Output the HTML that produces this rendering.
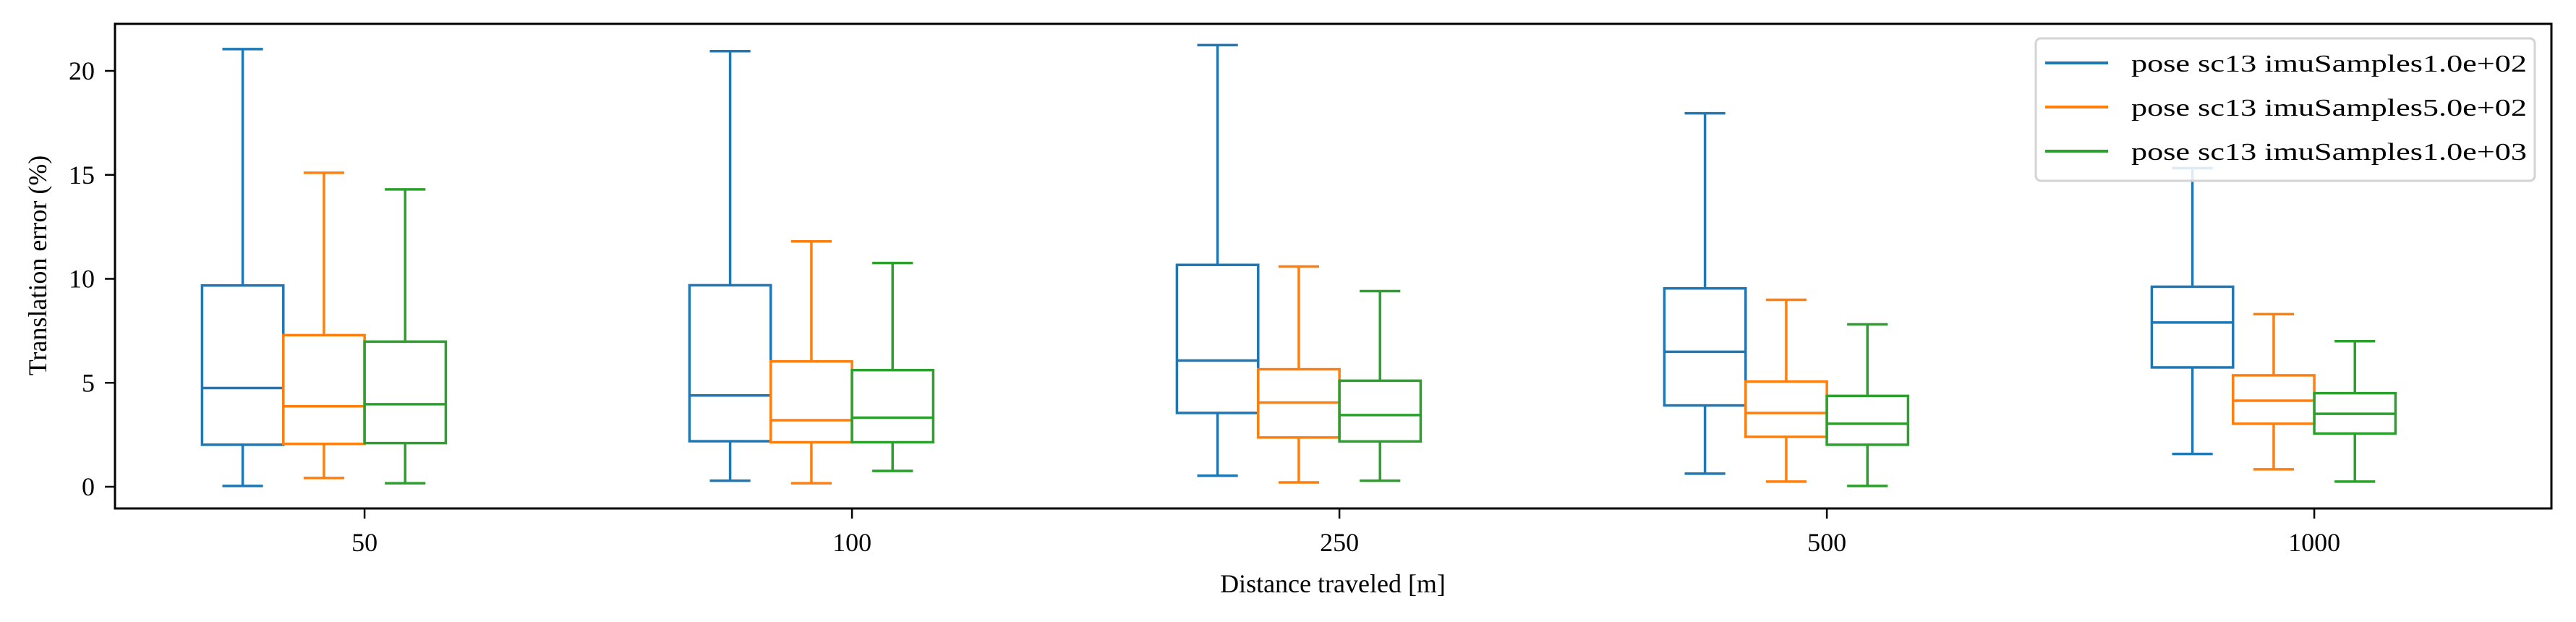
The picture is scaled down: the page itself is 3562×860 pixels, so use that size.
<!DOCTYPE html>
<html><head><meta charset="utf-8">
<style>html,body{margin:0;padding:0;background:#fff}svg{display:block}text{font-family:"Liberation Serif",serif;fill:#000}</style>
</head><body>
<svg id="chart" width="3562" height="860" viewBox="0 0 3562 860" xmlns="http://www.w3.org/2000/svg"></svg>
<script>
const categories = ["50","100","250","500","1000"];
const seriesNames = ["pose sc13 imuSamples1.0e+02","pose sc13 imuSamples5.0e+02","pose sc13 imuSamples1.0e+03"];
const colors = ["#1f77b4","#ff7f0e","#2ca02c"];
// each entry: [lowWhisker, q1, median, q3, highWhisker]
const seriesBlue = [[0.04,2.02,4.75,9.68,21.05],[0.29,2.19,4.39,9.69,20.95],[0.53,3.55,6.07,10.67,21.24],[0.63,3.91,6.49,9.54,17.96],[1.58,5.74,7.9,9.62,15.32]];
const seriesOrange = [[0.42,2.06,3.87,7.29,15.1],[0.17,2.14,3.2,6.03,11.8],[0.21,2.37,4.05,5.65,10.59],[0.25,2.4,3.55,5.06,8.99],[0.84,3.03,4.14,5.36,8.3]];
const seriesGreen = [[0.17,2.1,3.97,6.98,14.3],[0.76,2.14,3.32,5.61,10.76],[0.29,2.18,3.45,5.1,9.41],[0.04,2.02,3.03,4.37,7.81],[0.25,2.56,3.51,4.5,7.0]];
const yTicks = [0,5,10,15,20];

const svg = document.getElementById('chart');
const NS = 'http://www.w3.org/2000/svg';
const L=159,R=3528,T=33,B=703;
const xScale = v => L + (v - 0.488) * 674;
const yScale = v => 673 - v * 28.75;
function mk(tag, attrs, parent){const e=document.createElementNS(NS,tag);for(const k in attrs)e.setAttribute(k,attrs[k]);(parent||svg).appendChild(e);return e;}

const allSeries=[seriesBlue,seriesOrange,seriesGreen];
const offsets=[-0.25,-0.0833,0.0833];
const bw=0.1667;
allSeries.forEach((ser,si)=>{
  ser.forEach((d,ci)=>{
    const g=mk('g',{});
    
    
    const c=ci+1+offsets[si];
    const x0=xScale(c-bw/2),x1=xScale(c+bw/2),xm=xScale(c);
    const cw=(x1-x0)/4;
    const st={stroke:colors[si],'stroke-width':3.5,fill:'none'};
    mk('rect',Object.assign({x:x0,y:yScale(d[3]),width:x1-x0,height:yScale(d[1])-yScale(d[3])},st),g);
    mk('line',Object.assign({x1:x0,x2:x1,y1:yScale(d[2]),y2:yScale(d[2])},st),g);
    mk('line',Object.assign({x1:xm,x2:xm,y1:yScale(d[3]),y2:yScale(d[4])},st),g);
    mk('line',Object.assign({x1:xm,x2:xm,y1:yScale(d[1]),y2:yScale(d[0])},st),g);
    mk('line',Object.assign({x1:xm-cw,x2:xm+cw,y1:yScale(d[4]),y2:yScale(d[4])},st),g);
    mk('line',Object.assign({x1:xm-cw,x2:xm+cw,y1:yScale(d[0]),y2:yScale(d[0])},st),g);
  });
});

const fr=mk('rect',{x:L,y:T,width:R-L,height:B-T,fill:'none',stroke:'#000','stroke-width':3});



yTicks.forEach(v=>{
  const y=yScale(v);
  mk('line',{x1:L-14,x2:L,y1:y,y2:y,stroke:'#000','stroke-width':2.5});
  const t=mk('text',{x:L-28,y:y+12,'text-anchor':'end','font-size':36});
  t.textContent=v;
  
  
});
categories.forEach((c,i)=>{
  const x=xScale(i+1);
  mk('line',{x1:x,x2:x,y1:B,y2:B+14,stroke:'#000','stroke-width':2.5});
  const t=mk('text',{x:x,y:762,'text-anchor':'middle','font-size':36});
  t.textContent=c;
  
  
});
const xl=mk('text',{x:1843,y:819,'text-anchor':'middle','font-size':36});
xl.textContent='Distance traveled [m]';


const yl=mk('text',{x:0,y:0,'text-anchor':'middle','font-size':36,transform:'translate(64,367) rotate(-90)'});
yl.textContent='Translation error (%)';



const lg=mk('g',{});


mk('rect',{x:2815,y:53,width:690,height:197,rx:7,fill:'rgba(255,255,255,0.85)',stroke:'#d3d3d3','stroke-width':3},lg);
seriesNames.forEach((n,i)=>{
  const y=87+i*61;
  const e=mk('g',{},lg);
  
  
  mk('line',{x1:2828,x2:2915,y1:y,y2:y,stroke:colors[i],'stroke-width':4},e);
  const t=mk('text',{x:2947,y:y+12,'font-size':34,textLength:547,lengthAdjust:'spacingAndGlyphs'},e);
  t.textContent=n;
});
</script>
</body></html>
